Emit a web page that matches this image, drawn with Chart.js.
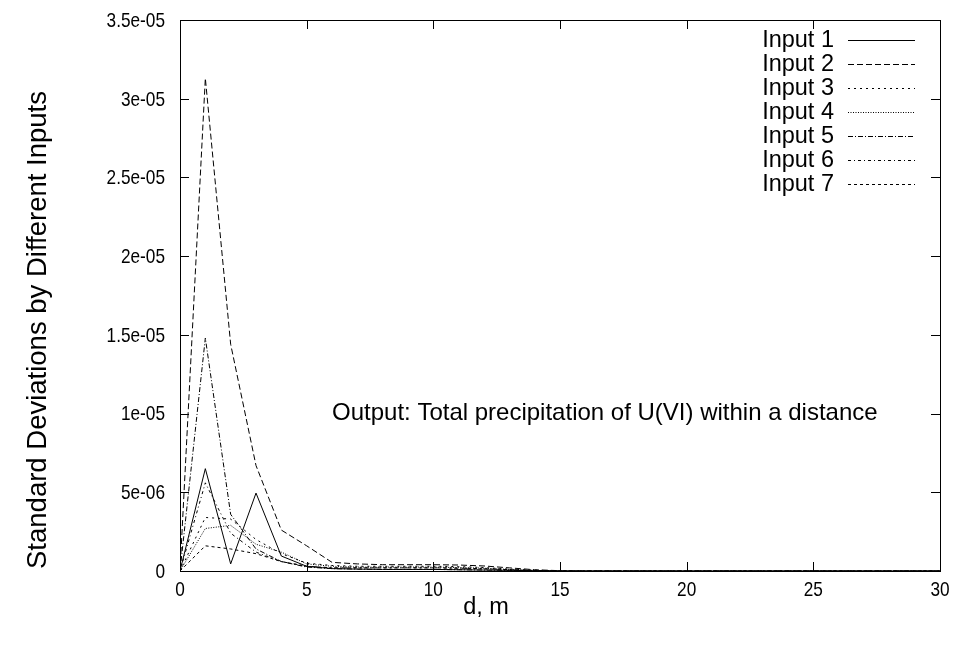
<!DOCTYPE html>
<html>
<head>
<meta charset="utf-8">
<script src="https://cdn.jsdelivr.net/npm/chart.js@4.4.0/dist/chart.umd.min.js"></script>
<style>
  html, body { margin: 0; padding: 0; background: #fff; }
</style>
</head>
<body>
<canvas id="chart" width="963" height="649"></canvas>
<script>
// distance d (m)
const distances = [0, 1, 2, 3, 4, 5, 6, 7, 8, 9, 10, 11, 12, 13, 14, 15,
  16, 17, 18, 19, 20, 21, 22, 23, 24, 25, 26, 27, 28, 29, 30];

// standard deviations, in units of 1e-6
const input1 = [0, 6.5, 0.45, 4.95, 0.95, 0.3, 0.15, 0.12, 0.1, 0.1, 0.1, 0.08, 0.06, 0.04, 0.02, 0,
  0, 0, 0, 0, 0, 0, 0, 0, 0, 0, 0, 0, 0, 0, 0];
const input2 = [0, 31.3, 14.4, 6.7, 2.6, 1.6, 0.55, 0.45, 0.4, 0.4, 0.4, 0.38, 0.32, 0.2, 0.08, 0.02,
  0, 0, 0, 0, 0, 0, 0, 0, 0, 0, 0, 0, 0, 0, 0];
const input3 = [0, 3.4, 3.3, 2.0, 1.1, 0.5, 0.35, 0.3, 0.3, 0.3, 0.3, 0.28, 0.22, 0.12, 0.05, 0.01,
  0, 0, 0, 0, 0, 0, 0, 0, 0, 0, 0, 0, 0, 0, 0];
const input4 = [0, 2.7, 2.9, 1.7, 1.2, 0.45, 0.3, 0.25, 0.25, 0.25, 0.25, 0.22, 0.18, 0.1, 0.04, 0,
  0, 0, 0, 0, 0, 0, 0, 0, 0, 0, 0, 0, 0, 0, 0];
const input5 = [0, 14.8, 3.6, 1.4, 0.6, 0.25, 0.15, 0.12, 0.1, 0.1, 0.1, 0.08, 0.06, 0.04, 0.02, 0,
  0, 0, 0, 0, 0, 0, 0, 0, 0, 0, 0, 0, 0, 0, 0];
const input6 = [0, 5.6, 2.4, 1.2, 0.6, 0.3, 0.2, 0.2, 0.2, 0.2, 0.2, 0.18, 0.14, 0.08, 0.03, 0,
  0, 0, 0, 0, 0, 0, 0, 0, 0, 0, 0, 0, 0, 0, 0];
const input7 = [0, 1.6, 1.4, 1.1, 0.6, 0.3, 0.2, 0.2, 0.2, 0.2, 0.2, 0.18, 0.14, 0.08, 0.03, 0,
  0, 0, 0, 0, 0, 0, 0, 0, 0, 0, 0, 0, 0, 0, 0];

const seriesNames = ['Input 1', 'Input 2', 'Input 3', 'Input 4', 'Input 5', 'Input 6', 'Input 7'];
const seriesValues = [input1, input2, input3, input4, input5, input6, input7];
const seriesDashes = [[], [6, 3], [2, 4], [1, 1.5], [5, 2, 1, 2], [3, 3, 1, 3], [3, 3]];

const xTicks = [0, 5, 10, 15, 20, 25, 30];
const yTickValues = [0, 5, 10, 15, 20, 25, 30, 35];
const yTickLabels = ['0', '5e-06', '1e-05', '1.5e-05', '2e-05', '2.5e-05', '3e-05', '3.5e-05'];

const FONT = '"Liberation Sans", Arial, Helvetica, sans-serif';

const datasets = seriesValues.map(function (vals, i) {
  return {
    label: seriesNames[i],
    data: vals.map(function (v, j) { return { x: distances[j], y: v }; }),
    borderColor: '#000',
    borderWidth: 1,
    borderDash: seriesDashes[i],
    pointRadius: 0,
    tension: 0,
    fill: false
  };
});

// slightly narrow tic text, like the original
function tickText(ctx, txt, x, y) {
  ctx.save();
  ctx.translate(x, y);
  ctx.scale(0.82, 1);
  ctx.fillText(txt, 0, 0);
  ctx.restore();
}

// gnuplot-like frame: border, inward mirrored ticks, key, labels
const gnuplotFrame = {
  id: 'gnuplotFrame',
  afterDraw(chart) {
    const ctx = chart.ctx;
    const area = chart.chartArea;
    const xs = chart.scales.x;
    const ys = chart.scales.y;
    ctx.save();
    ctx.strokeStyle = '#000';
    ctx.fillStyle = '#000';
    ctx.lineWidth = 1;
    ctx.setLineDash([]);
    ctx.strokeRect(area.left + 0.5, area.top + 0.5, area.right - area.left, area.bottom - area.top);

    const tl = 9;
    ctx.beginPath();
    xTicks.forEach(function (t) {
      const px = Math.round(xs.getPixelForValue(t)) + 0.5;
      ctx.moveTo(px, area.bottom); ctx.lineTo(px, area.bottom - tl);
      ctx.moveTo(px, area.top); ctx.lineTo(px, area.top + tl);
    });
    yTickValues.forEach(function (v) {
      const py = Math.round(ys.getPixelForValue(v)) + 0.5;
      ctx.moveTo(area.left, py); ctx.lineTo(area.left + tl, py);
      ctx.moveTo(area.right, py); ctx.lineTo(area.right - tl, py);
    });
    ctx.stroke();

    // tic labels
    ctx.font = '21px ' + FONT;
    ctx.textBaseline = 'middle';
    ctx.textAlign = 'center';
    xTicks.forEach(function (t) {
      tickText(ctx, String(t), xs.getPixelForValue(t), area.bottom + 19);
    });
    ctx.textAlign = 'right';
    yTickValues.forEach(function (v, i) {
      tickText(ctx, yTickLabels[i], area.left - 15, ys.getPixelForValue(v) + 1);
    });

    // key
    ctx.font = '23.5px ' + FONT;
    ctx.textAlign = 'right';
    chart.data.datasets.forEach(function (ds, i) {
      const y = 40 + 24 * i;
      ctx.fillText(ds.label, 834, y + 1);
      ctx.beginPath();
      ctx.setLineDash(ds.borderDash);
      ctx.moveTo(848, y + 0.5);
      ctx.lineTo(915, y + 0.5);
      ctx.stroke();
    });
    ctx.setLineDash([]);

    // label inside the plot
    ctx.font = '24px ' + FONT;
    ctx.textAlign = 'left';
    ctx.fillText('Output: Total precipitation of U(VI) within a distance',
      xs.getPixelForValue(6), ys.getPixelForValue(10));

    // axis titles
    ctx.textAlign = 'center';
    ctx.font = '23.5px ' + FONT;
    ctx.fillText('d, m', 486, 608);
    ctx.font = '27.5px ' + FONT;
    ctx.translate(38, 330);
    ctx.rotate(-Math.PI / 2);
    ctx.fillText('Standard Deviations by Different Inputs', 0, 0);
    ctx.restore();
  }
};

const chart = new Chart(document.getElementById('chart').getContext('2d'), {
  type: 'line',
  data: { datasets: datasets },
  options: {
    responsive: false,
    animation: false,
    devicePixelRatio: 1,
    layout: { padding: { left: 0, right: 23, top: 20, bottom: 0 } },
    plugins: { legend: { display: false }, tooltip: { enabled: false } },
    scales: {
      x: {
        type: 'linear',
        min: 0,
        max: 30,
        ticks: { stepSize: 5, display: false },
        grid: { drawOnChartArea: false, drawTicks: false },
        border: { display: false },
        afterFit: function (scale) { scale.height = 78; }
      },
      y: {
        min: 0,
        max: 35,
        ticks: { stepSize: 5, display: false },
        grid: { drawOnChartArea: false, drawTicks: false },
        border: { display: false },
        afterFit: function (scale) { scale.width = 180; }
      }
    }
  },
  plugins: [gnuplotFrame]
});
</script>
</body>
</html>
